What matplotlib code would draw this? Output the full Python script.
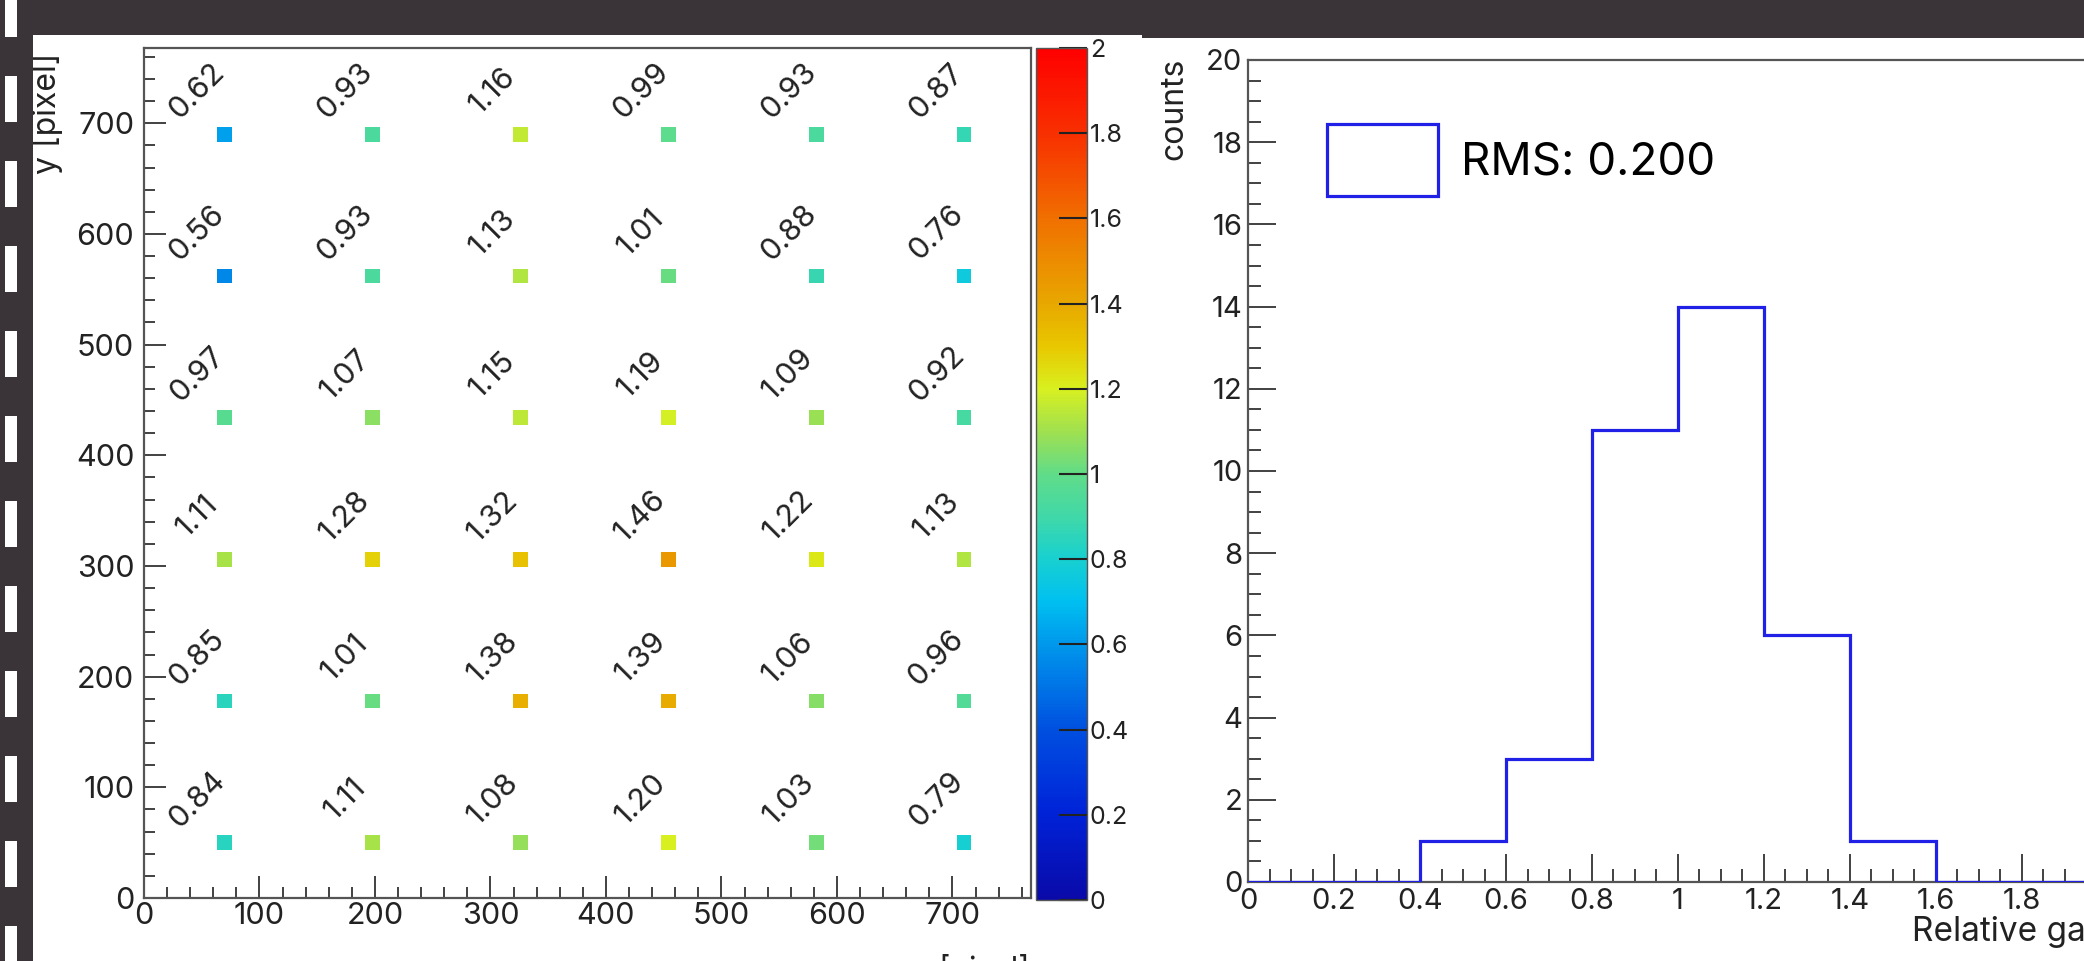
import numpy as np
import matplotlib
matplotlib.use('Agg')
import matplotlib.pyplot as plt
from matplotlib.colors import LinearSegmentedColormap
from matplotlib.patches import Rectangle, Patch
from matplotlib.ticker import MultipleLocator, FuncFormatter

plt.rcParams['font.family'] = ['Inter', 'Liberation Sans', 'DejaVu Sans']

# gain map: pixel centres and relative gain per spot (rows top -> bottom)
x_pix = [70, 198, 326, 454, 582, 710]
y_pix = [690, 562, 434, 306, 178, 50]
gain = [[0.62, 0.93, 1.16, 0.99, 0.93, 0.87],
        [0.56, 0.93, 1.13, 1.01, 0.88, 0.76],
        [0.97, 1.07, 1.15, 1.19, 1.09, 0.92],
        [1.11, 1.28, 1.32, 1.46, 1.22, 1.13],
        [0.85, 1.01, 1.38, 1.39, 1.06, 0.96],
        [0.84, 1.11, 1.08, 1.20, 1.03, 0.79]]

# histogram of the gains
edges = [0, 0.2, 0.4, 0.6, 0.8, 1.0, 1.2, 1.4, 1.6, 1.8, 2.0]
counts = [0, 0, 1, 3, 11, 14, 6, 1, 0, 0]
rms_label = 'RMS: 0.200'

W, H = 2084, 961
def fx(p): return p / W
def fy(p): return 1 - p / H

def short(v, pos=None):
    return f'{v:.1f}'.rstrip('0').rstrip('.')

# ROOT-like rainbow palette
pal_v = [0.0, 0.2, 0.4, 0.6, 0.7, 0.8, 0.9, 1.0, 1.1, 1.2, 1.3, 1.4, 1.6, 1.8, 2.0]
pal_c = ['#0a0aa8', '#0022d8', '#0050e0', '#0098ec', '#00c0f0', '#18d0d0', '#40d8a8',
         '#60dc88', '#a0e050', '#d8f020', '#e8c800', '#e8a800', '#f07000', '#f83000', '#ff0000']
cmap = LinearSegmentedColormap.from_list('rootrain', list(zip(np.array(pal_v) / 2.0, pal_c)))

fig = plt.figure(figsize=(W / 100, H / 100), dpi=100)
fig.patch.set_facecolor('#3a3438')

# white slide panels + film strip on the left
left_panel = Rectangle((fx(33), 0), fx(1142 - 33), 1 - 35 / H, transform=fig.transFigure,
                       facecolor='white', edgecolor='none', zorder=-10)
fig.add_artist(left_panel)
fig.add_artist(Rectangle((fx(1142), 0), fx(W - 1142), 1 - 38 / H, transform=fig.transFigure,
                         facecolor='white', edgecolor='none', zorder=-10))
for top in range(-9, H, 85):
    fig.add_artist(Rectangle((fx(5), fy(top + 46)), fx(12), 46 / H, transform=fig.transFigure,
                             facecolor='white', edgecolor='none', zorder=-9))

# ---- left: gain map ----
ax = fig.add_axes([fx(144), fy(898), fx(1031 - 144), (898 - 48) / H])
xx, yy = np.meshgrid(x_pix, y_pix)
g = np.array(gain)
sc = ax.scatter(xx.ravel(), yy.ravel(), c=g.ravel(), cmap=cmap, vmin=0, vmax=2,
                marker='s', s=115, linewidths=0)
for xv, yv, v in zip(xx.ravel(), yy.ravel(), g.ravel()):
    ax.annotate(f'{v:.2f}', (xv, yv), xytext=(-20, 31), textcoords='offset points',
                rotation=45, ha='center', va='center', fontsize=22, color='#222222')
ax.set_xlim(0, 768)
ax.set_ylim(0, 768)
ax.xaxis.set_major_locator(MultipleLocator(100))
ax.xaxis.set_minor_locator(MultipleLocator(20))
ax.yaxis.set_major_locator(MultipleLocator(100))
ax.yaxis.set_minor_locator(MultipleLocator(20))
ax.tick_params(which='both', direction='in', colors='#333333', labelcolor='#222222', width=1.3)
ax.tick_params(which='major', length=16, labelsize=22)
ax.tick_params(which='minor', length=8)
ax.tick_params(axis='x', which='major', pad=3)
ax.tick_params(axis='y', which='major', pad=7)
for s in ax.spines.values():
    s.set_color('#555555')
    s.set_linewidth(1.6)

ylab = fig.text(fx(63), fy(53), 'y [pixel]', rotation=90, ha='right', va='top',
                fontsize=23, color='#222222')
ylab.set_clip_path(left_panel)
fig.text(fx(1030), fy(954), 'x [pixel]', ha='right', va='top', fontsize=22, color='#222222')

cax = fig.add_axes([fx(1036), fy(900), fx(51), (900 - 48) / H])
cb = fig.colorbar(sc, cax=cax)
cb.set_ticks(np.arange(0, 2.01, 0.2))
cb.ax.yaxis.set_major_formatter(FuncFormatter(short))
cb.ax.tick_params(direction='in', length=20, width=1.5, colors='#222222', labelsize=18, pad=2)
cb.outline.set_edgecolor('#555555')
cb.outline.set_linewidth(1.0)

# ---- right: histogram ----
ax2 = fig.add_axes([fx(1248), fy(882), fx(2108 - 1248), (882 - 60) / H])
ax2.stairs(counts, edges, color='#2020e6', linewidth=2.3, zorder=3)
ax2.set_xlim(0, 2)
ax2.set_ylim(0, 20)
ax2.xaxis.set_major_locator(MultipleLocator(0.2))
ax2.xaxis.set_minor_locator(MultipleLocator(0.05))
ax2.yaxis.set_major_locator(MultipleLocator(2))
ax2.yaxis.set_minor_locator(MultipleLocator(0.5))
ax2.xaxis.set_major_formatter(FuncFormatter(short))
ax2.tick_params(which='both', direction='in', colors='#333333', labelcolor='#222222', width=1.3)
ax2.tick_params(which='major', length=20, labelsize=21)
ax2.tick_params(which='minor', length=9.5)
ax2.tick_params(axis='x', which='major', pad=4)
ax2.tick_params(axis='y', which='major', pad=4)
for s in ax2.spines.values():
    s.set_color('#555555')
    s.set_linewidth(1.6)
ax2.spines['right'].set_visible(False)

fig.text(fx(1174), fy(58), 'counts', rotation=90, ha='center', va='top', fontsize=23, color='#222222')
fig.text(fx(1912), fy(916), 'Relative gain', ha='left', va='top', fontsize=24, color='#222222')

fs_pt = 33
fs = fs_pt * 100 / 72
hh = (72 / fs - 0.245) / 0.65
ax2.legend(handles=[Patch(facecolor='white', edgecolor='#2020e6', linewidth=2.3)],
           labels=[rms_label], loc='upper left',
           bbox_to_anchor=(fx(1327), fy(124)), bbox_transform=fig.transFigure,
           frameon=False, fontsize=fs_pt, handlelength=111 / fs, handleheight=hh,
           handletextpad=0.5, borderpad=0, borderaxespad=0)

fig.savefig('out.png', dpi=100, facecolor=fig.get_facecolor())
